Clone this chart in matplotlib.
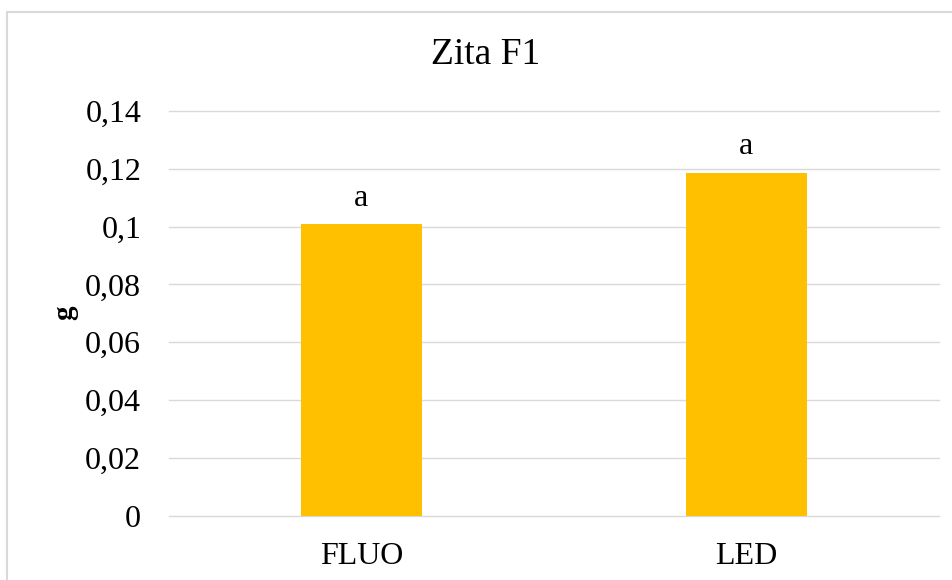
import matplotlib
matplotlib.use("Agg")
import matplotlib.pyplot as plt
from matplotlib.patches import Rectangle
from matplotlib.ticker import FuncFormatter

categories = ["FLUO", "LED"]
values = [0.1008, 0.1187]
letters = ["a", "a"]
title = "Zita F1"
ylabel = "g"
yticks = [0, 0.02, 0.04, 0.06, 0.08, 0.1, 0.12, 0.14]

plt.rcParams['font.family'] = ['Liberation Serif', 'DejaVu Serif']

fig = plt.figure(figsize=(9.53, 5.80), dpi=100)
ax = fig.add_axes([169/953, 1-515.7/580, (939-169)/953, (515.7-111)/580])

x = range(len(categories))
bars = ax.bar(x, values, width=0.312, color="#FFC000", zorder=3)
ax.set_xlim(-0.5, 1.5)
ax.set_ylim(0, 0.14)
ax.set_yticks(yticks)

def fmt(v, pos):
    s = f"{v:.2f}".rstrip("0").rstrip(".")
    return s.replace(".", ",")
ax.yaxis.set_major_formatter(FuncFormatter(fmt))
ax.set_xticks(list(x))
ax.set_xticklabels(categories)

for s in ax.spines.values():
    s.set_visible(False)
ax.grid(axis="y", color="#D9D9D9", linewidth=1.0, zorder=0)
for gl in ax.get_ygridlines():
    gl.set_clip_on(False)
ax.tick_params(axis="both", length=0, labelsize=23)
ax.tick_params(axis="y", pad=20)
ax.tick_params(axis="x", pad=19)

for xi, v, lab in zip(x, values, letters):
    ax.annotate(lab, (xi, v), xytext=(0, 8), textcoords="offset points",
                ha="center", va="bottom", fontsize=23)

fig.text(65/953, 1-313/580, ylabel, rotation=90, ha="center", va="center",
         fontsize=21, fontweight="bold")

fig.text(486/953, 1-55/580, title, ha="center", va="center", fontsize=27)

border = Rectangle((7/953, -0.1), 1.2, 1-12/580+0.1, transform=fig.transFigure,
                   fill=False, edgecolor="#D9D9D9", linewidth=1.5, clip_on=False)
fig.add_artist(border)

fig.savefig("out.png", dpi=100)
